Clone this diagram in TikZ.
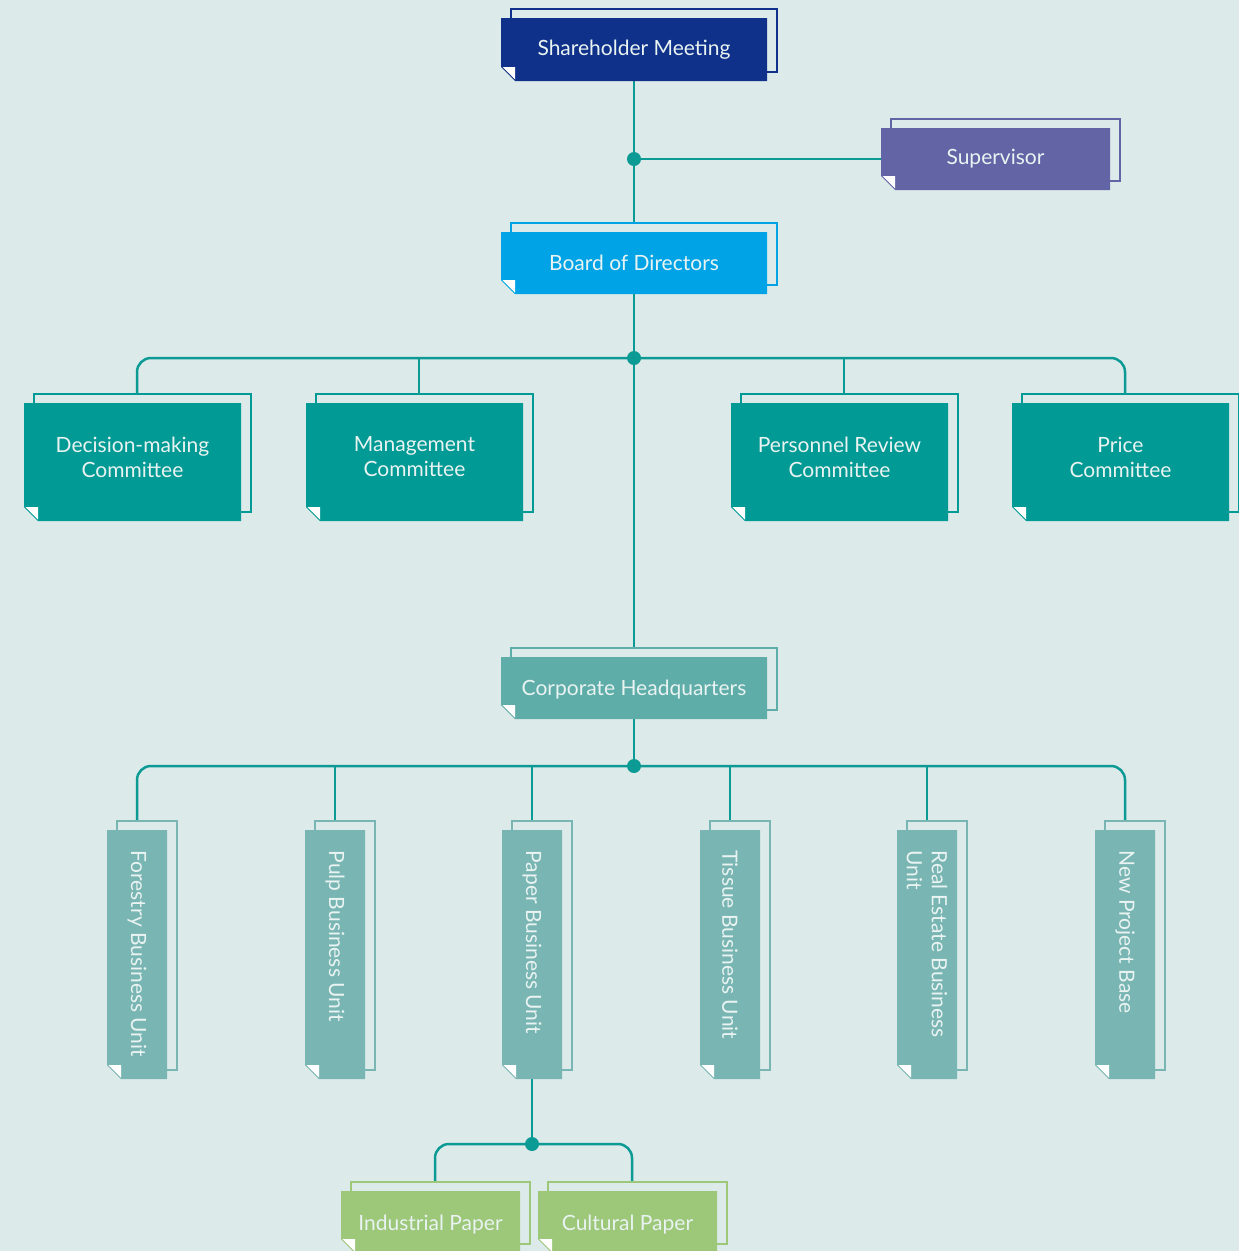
\documentclass[tikz,border=0pt]{standalone}
\usepackage{fontspec}
\setmainfont{Lato}
\usetikzlibrary{calc}

\definecolor{bgc}{HTML}{DDEAEA}
\definecolor{linec}{HTML}{0C9A94}
\definecolor{shareC}{HTML}{10318A}
\definecolor{superC}{HTML}{6264A6}
\definecolor{boardC}{HTML}{00A4E6}
\definecolor{commC}{HTML}{029A94}
\definecolor{hqC}{HTML}{5FADA8}
\definecolor{unitC}{HTML}{79B6B3}
\definecolor{paperC}{HTML}{9DC779}
\definecolor{txtC}{HTML}{E9F3F2}

\pgfdeclarelayer{background}
\pgfsetlayers{background,main}

\tikzset{
  link/.style={linec, line width=2.5pt},
  hub/.style={circle, fill=linec, inner sep=0pt, minimum size=14pt},
  frame/.style={inner sep=0pt, outer sep=0pt},
  boxtext/.style={text=txtC, font=\fontsize{21}{25}\selectfont, align=center},
  unittext/.style={boxtext, rotate=-90, anchor=west, align=left},
}

% colour, name, position, width, height
\newcommand{\orgbox}[5]{%
  \node[frame, minimum width=#4pt, minimum height=#5pt] (#2) at (#3) {};
  \draw[#1, line width=2.2pt, fill=bgc] ([shift={(10pt,9pt)}]#2.south west) rectangle ([shift={(10pt,9pt)}]#2.north east);
  \fill[#1] (#2.north west) -- (#2.north east) -- (#2.south east) -- ([xshift=14pt]#2.south west) -- ([yshift=14pt]#2.south west) -- cycle;
  \fill[white] ([shift={(1.5pt,14pt)}]#2.south west) -- ([shift={(14pt,14pt)}]#2.south west) -- ([shift={(14pt,1.5pt)}]#2.south west) -- cycle;
}

\begin{document}
\begin{tikzpicture}[x=1pt, y=-1pt]

  \useasboundingbox (0,0) rectangle (1239,1251);

  % top levels
  \orgbox{shareC}{share}{634,49.5}{266}{63}
  \node[boxtext] (share-t) at (share) {Shareholder Meeting};
  \orgbox{superC}{sup}{995.5,159}{229}{62}
  \node[boxtext] (sup-t) at (sup) {Supervisor};
  \orgbox{boardC}{board}{634,263}{266}{62}
  \node[boxtext] (board-t) at (board) {Board of Directors};

  % committees
  \foreach \nm/\cx/\txt in {dec/132.5/{Decision-making\\Committee}, mgmt/414.5/{Management\\Committee},
                            pers/839.5/{Personnel Review\\Committee}, price/1120.5/{Price\\Committee}} {
    \orgbox{commC}{\nm}{\cx,462}{217}{118}
    \node[boxtext] (\nm-t) at ([yshift=5pt]\nm) {\txt};
  }

  \orgbox{hqC}{hq}{634,688}{266}{62}
  \node[boxtext] (hq-t) at ([yshift=-1.5pt]hq) {Corporate Headquarters};

  % business units
  \foreach \nm/\cx/\txt in {u1/137/{Forestry Business Unit}, u2/335/{Pulp Business Unit},
                            u3/532/{Paper Business Unit}, u4/730/{Tissue Business Unit},
                            u5/927/{Real Estate Business\\Unit}, u6/1125/{New Project Base}} {
    \orgbox{unitC}{\nm}{\cx,954.5}{60}{249}
    \node[unittext] (\nm-t) at ([yshift=-17pt]\nm.north) {\txt};
  }

  \orgbox{paperC}{ind}{430.5,1222}{179}{62}
  \node[boxtext] (ind-t) at ([yshift=-3pt]ind) {Industrial Paper};
  \orgbox{paperC}{cul}{627.5,1222}{179}{62}
  \node[boxtext] (cul-t) at ([yshift=-3pt]cul) {Cultural Paper};

  % hubs
  \node[hub] (hub1) at (634,159) {};
  \node[hub] (hub2) at (634,358) {};
  \node[hub] (hub3) at (634,766) {};
  \node[hub] (hub4) at (532,1144) {};

  \begin{pgfonlayer}{background}
    \fill[bgc] (0,0) rectangle (1239,1251);
    \draw[link] (share.south) -- (board.north);
    \draw[link] (hub1.center) -- (sup.west);
    \draw[link] (board.south) -- (hq.north);
    \draw[link, rounded corners=14pt] ([xshift=4.5pt]dec.north) |- (hub2.center) -| ([xshift=4.5pt]price.north);
    \foreach \nm in {mgmt,pers}
      \draw[link] ([xshift=4.5pt]\nm.north) -- ([xshift=4.5pt]\nm.north |- hub2.center);
    \draw[link] (hq.south) -- (hub3.center);
    \draw[link, rounded corners=14pt] (u1.north) |- (hub3.center) -| (u6.north);
    \foreach \nm in {u2,u3,u4,u5}
      \draw[link] (\nm.north) -- (\nm.north |- hub3.center);
    \draw[link] (u3.south) -- (hub4.center);
    \draw[link, rounded corners=14pt] ([xshift=4.5pt]ind.north) |- (hub4.center) -| ([xshift=4.5pt]cul.north);
  \end{pgfonlayer}

\end{tikzpicture}
\end{document}
